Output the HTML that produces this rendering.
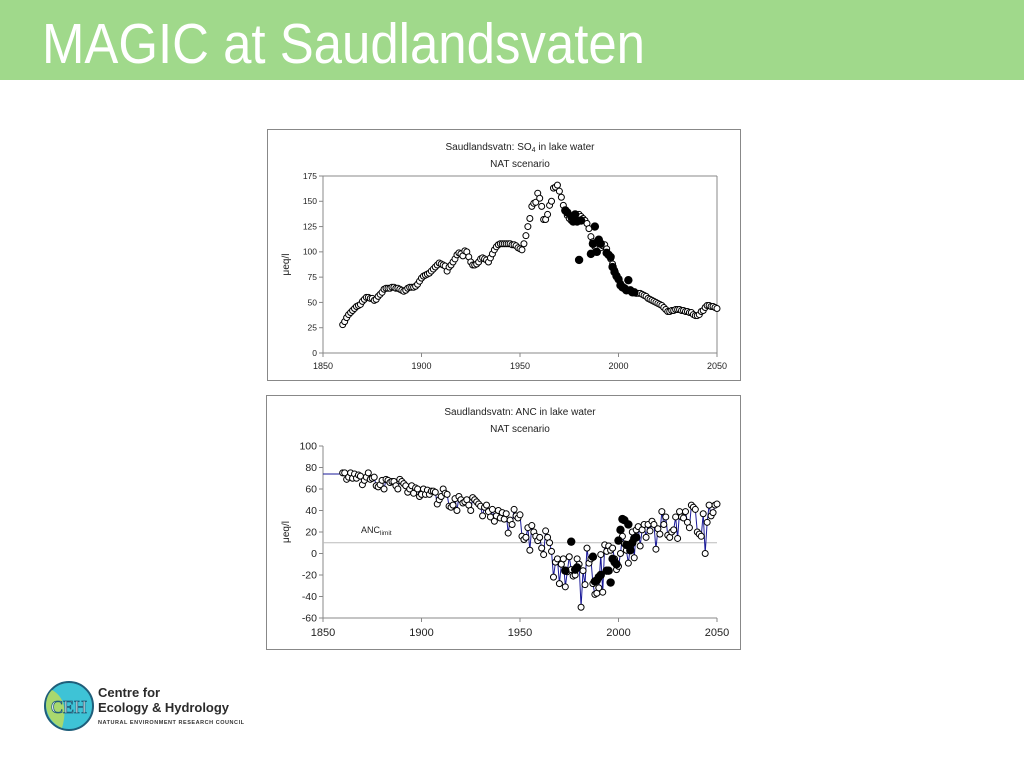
<!DOCTYPE html>
<html><head><meta charset="utf-8"><style>
body{margin:0;width:1024px;height:768px;background:#fff;overflow:hidden;font-family:"Liberation Sans",sans-serif}
svg{position:absolute;left:0;top:0}
</style></head><body>
<svg id="s" width="1024" height="768" xmlns="http://www.w3.org/2000/svg">
<rect x="0" y="0" width="1024" height="80" fill="#a0d98b"/>
<text x="42" y="63" font-size="57" fill="#fff" textLength="603" lengthAdjust="spacingAndGlyphs" font-family="Liberation Sans, sans-serif">MAGIC at Saudlandsvaten</text>
<rect x="267.5" y="129.5" width="473" height="251" fill="#fff" stroke="#888"/>
<rect x="266.5" y="395.5" width="474" height="254" fill="#fff" stroke="#888"/>
<g id="c1"></g>
<g id="c2"></g>
<g>
<circle cx="69" cy="706" r="24" fill="#3ec3d6" stroke="#1f5e7a" stroke-width="2"/>
<path d="M52 690 Q70 700 62 728 Q48 722 46 706 Q46 696 52 690Z" fill="#a9d86e"/>
<text x="69" y="713" font-size="18" font-family="Liberation Serif, serif" fill="#fff" stroke="#1f5e7a" stroke-width="0.8" text-anchor="middle">CEH</text>
<text x="98" y="697" font-size="13" font-weight="bold" fill="#2b2b2b">Centre for</text>
<text x="98" y="712" font-size="13" font-weight="bold" fill="#2b2b2b" textLength="131">Ecology &amp; Hydrology</text>
<text x="98" y="724" font-size="5.5" font-weight="bold" fill="#333" textLength="146">NATURAL ENVIRONMENT RESEARCH COUNCIL</text>
</g>
</svg>
<script>
const so4Years=[];for(let y=1860;y<=2050;y++)so4Years.push(y);
const so4Sim=[28,31,35,38,40,42,44,46,47,48,51,53,55,55,54,54,52,53,56,58,60,63,64,64,64,65,65,64,64,63,62,61,62,64,65,65,65,66,68,71,74,76,77,78,79,81,83,85,87,89,88,87,86,81,85,87,90,93,97,99,98,96,101,100,95,90,87,87,88,90,93,94,93,92,90,94,98,102,105,107,108,108,108,108,108,108,107,107,106,104,103,102,108,116,125,133,145,148,149,158,153,145,132,132,137,146,150,163,164,166,160,154,146,140,136,133,131,132,134,133,137,135,133,131,128,123,115,110,105,103,108,104,106,107,103,97,93,88,82,77,73,69,66,64,63,62,61,60,60,59,59,59,58,57,56,54,53,52,51,50,49,48,47,45,43,41,41,42,42,43,43,43,42,42,41,41,40,40,38,37,37,38,41,42,45,47,47,46,46,45,44];
const so4ObsYears=[1973,1974,1976,1977,1978,1979,1980,1981,1986,1987,1988,1989,1990,1991,1994,1995,1996,1997,1998,1999,2000,2001,2002,2003,2004,2005,2006,2007,2008];
const so4Obs=[141,139,135,130,137,130,92,131,98,108,125,100,112,108,99,97,95,85,80,76,73,67,65,64,62,72,62,60,60];
const so4Ticks=[0,25,50,75,100,125,150,175];
const ancYears=so4Years;
const ancSim=[75,75,69,71,75,70,74,70,73,72,64,68,71,75,69,70,71,63,62,64,68,60,69,68,66,67,67,63,60,69,67,65,63,57,60,63,56,61,60,53,55,60,55,59,55,58,58,57,46,50,53,60,56,55,44,43,45,51,40,53,50,47,48,50,45,40,52,50,48,46,44,35,43,45,39,34,41,30,35,40,33,38,32,37,19,31,27,41,35,33,36,16,13,15,24,3,26,20,16,12,15,5,-1,21,15,10,2,-22,-8,-5,-28,-10,-5,-31,-17,-3,-15,-21,-20,-5,-10,-50,-16,-29,5,-9,-5,-28,-38,-37,-32,-1,-36,8,2,7,3,5,-5,-15,-12,0,16,9,3,-9,6,20,-4,22,25,7,22,27,15,27,21,30,27,4,23,18,39,27,34,17,15,20,22,34,14,39,34,33,39,29,24,45,43,41,20,18,16,37,0,29,45,35,38,45,46];
const ancObsYears=[1973,1976,1978,1979,1987,1988,1989,1990,1991,1994,1995,1996,1997,1998,1999,2000,2001,2002,2003,2004,2005,2006,2007,2008,2009];
const ancObs=[-16,11,-15,-13,-3,-26,-25,-22,-20,-16,-16,-27,-5,-8,-10,12,22,32,31,8,27,3,10,14,15];
const ancTicks=[-60,-40,-20,0,20,40,60,80,100];
const xTicks=[1850,1900,1950,2000,2050];
const NS="http://www.w3.org/2000/svg";
function mk(p,t,a,txt){const e=document.createElementNS(NS,t);for(const k in a)e.setAttribute(k,a[k]);if(txt!==undefined)e.textContent=txt;p.appendChild(e);return e;}
const X0=323,X1=717;const xs=y=>X0+(y-1850)/200*(X1-X0);
function chart(g,top,bot,ymin,ymax,ticks,title,fs,box){
  const ys=v=>bot-(v-ymin)/(ymax-ymin)*(bot-top);
  mk(g,'text',{x:520,y:box+20,'font-size':10,'text-anchor':'middle',fill:'#222'},'').innerHTML=title;
  mk(g,'text',{x:520,y:box+37,'font-size':10,'text-anchor':'middle',fill:'#222'},'NAT scenario');
  ticks.forEach(t=>{
    const l=mk(g,'text',{x:X0-6,y:ys(t)+fs/3,'font-size':fs,'text-anchor':'end',fill:'#222'},String(t));
    
    
    mk(g,'line',{x1:X0-4,x2:X0,y1:ys(t),y2:ys(t),stroke:'#888'});
  });
  xTicks.forEach(t=>{
    const l=mk(g,'text',{x:xs(t),y:bot+(fs>9?18:16),'font-size':fs>9?11:9,'text-anchor':'middle',fill:'#222'},String(t));
    
    
    mk(g,'line',{x1:xs(t),x2:xs(t),y1:bot,y2:bot+4,stroke:'#888'});
  });
  mk(g,'line',{x1:X0,x2:X0,y1:top,y2:bot,stroke:'#888'});
  mk(g,'line',{x1:X0,x2:X1,y1:bot,y2:bot,stroke:'#888'});
  const yl=mk(g,'text',{x:0,y:0,'font-size':10,'text-anchor':'middle',fill:'#222',transform:`translate(${X0-34},${(top+bot)/2}) rotate(-90)`},'μeq/l');
  
  
  return ys;
}
const g1=document.getElementById('c1');
const ys1=chart(g1,176,353,0,175,so4Ticks,'Saudlandsvatn: SO<tspan font-size="7" dy="2">4</tspan><tspan dy="-2"> in lake water</tspan>',8.5,130);
mk(g1,'line',{x1:X0,x2:X1,y1:176,y2:176,stroke:'#888'});
mk(g1,'line',{x1:X1,x2:X1,y1:176,y2:353,stroke:'#888'});
so4Years.forEach((y,i)=>{const c=mk(g1,'circle',{cx:xs(y),cy:ys1(so4Sim[i]),r:3,fill:'#fff',stroke:'#000','stroke-width':1});

});
so4ObsYears.forEach((y,i)=>{const c=mk(g1,'circle',{cx:xs(y),cy:ys1(so4Obs[i]),r:4.2,fill:'#000'});

});
const g2=document.getElementById('c2');
const ys2=chart(g2,446,618,-60,100,ancTicks,'Saudlandsvatn: ANC in lake water',10.5,395);
mk(g2,'line',{x1:X0,x2:X1,y1:ys2(10),y2:ys2(10),stroke:'#bbb'});
const al=mk(g2,'text',{x:361,y:533,'font-size':9,fill:'#222'},'');al.innerHTML='ANC<tspan font-size="6.5" dy="2">limit</tspan>';


let d=`M${X0},${ys2(ancSim[0]-1)} L${xs(1860)},${ys2(ancSim[0]-1)}`;
ancYears.forEach((y,i)=>{d+=` L${xs(y)},${ys2(ancSim[i])}`;});
const ln=mk(g2,'path',{d:d,fill:'none',stroke:'#1a1a99','stroke-width':1});


ancYears.forEach((y,i)=>{const c=mk(g2,'circle',{cx:xs(y),cy:ys2(ancSim[i]),r:3,fill:'#fff',stroke:'#000','stroke-width':1});

});
ancObsYears.forEach((y,i)=>{const c=mk(g2,'circle',{cx:xs(y),cy:ys2(ancObs[i]),r:4.2,fill:'#000'});

});
</script>
</body></html>
